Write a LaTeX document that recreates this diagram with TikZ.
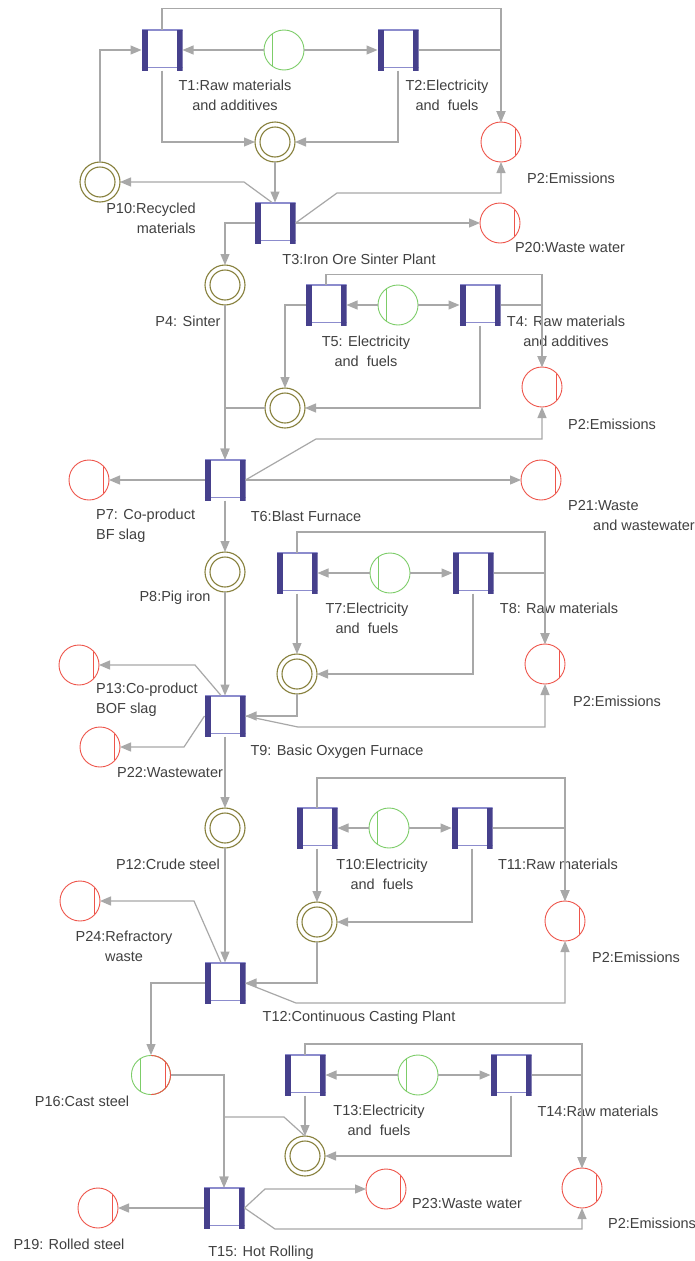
\documentclass[tikz,border=0pt]{standalone}
\usepackage{fontspec}
\setmainfont{Liberation Sans}
\usetikzlibrary{arrows.meta}
\definecolor{tbar}{RGB}{70,64,140}
\definecolor{tedge}{RGB}{140,140,205}
\definecolor{pgreen}{RGB}{125,205,105}
\definecolor{pred}{RGB}{238,85,75}
\definecolor{polive}{RGB}{135,128,60}
\definecolor{agray}{RGB}{168,168,168}
\definecolor{tgray}{RGB}{64,64,64}
\tikzset{
  trans/.style={rectangle, minimum width=41pt, minimum height=41pt, inner sep=0pt, outer sep=0pt, fill=white,
    path picture={
      \draw[tedge, line width=2.4pt] (path picture bounding box.north west) -- (path picture bounding box.north east);
      \draw[tedge, line width=1.2pt] ([yshift=3pt]path picture bounding box.south west) -- ([yshift=3pt]path picture bounding box.south east);
      \fill[tbar] (path picture bounding box.north west) rectangle ([xshift=6pt]path picture bounding box.south west);
      \fill[tbar] (path picture bounding box.north east) rectangle ([xshift=-6pt]path picture bounding box.south east);
    }},
  place/.style={circle, minimum size=40pt, inner sep=0pt, outer sep=0pt, fill=white, line width=0.9pt},
  redp/.style={place, draw=pred, path picture={\draw[pred, line width=0.9pt] ([xshift=14pt]path picture bounding box.north) -- ([xshift=14pt]path picture bounding box.south);}},
  greenp/.style={place, draw=pgreen, path picture={\draw[pgreen, line width=0.9pt] ([xshift=-12pt]path picture bounding box.north) -- ([xshift=-12pt]path picture bounding box.south);}},
  dblp/.style={place, draw=polive, line width=1.1pt, path picture={\draw[polive, line width=1.1pt] (path picture bounding box.center) circle (15pt);}},
  halfp/.style={place, path picture={
      \draw[pgreen, line width=1.8pt] (path picture bounding box.center) circle (20pt);
      \draw[pgreen, line width=0.9pt] ([xshift=-11pt]path picture bounding box.north) -- ([xshift=-11pt]path picture bounding box.south);
      \begin{scope}
        \clip (path picture bounding box.north) rectangle ([xshift=5pt]path picture bounding box.south east);
        \draw[pred, line width=1.8pt] (path picture bounding box.center) circle (20pt);
      \end{scope}
      \draw[pred, line width=0.9pt] ([xshift=14pt]path picture bounding box.north) -- ([xshift=14pt]path picture bounding box.south);
    }},
  arr/.style={draw=agray, line width=1.2pt, -{Triangle[length=11pt,width=9pt]}},
  lbl/.style={text=tgray, font=\fontsize{14.5}{20}\selectfont, inner sep=0pt, align=center},
}
\begin{document}
\begin{tikzpicture}[x=1pt,y=-1pt]
\fill[white] (0,0) rectangle (695,1261);
\useasboundingbox (0,0) rectangle (695,1261);

% ---------- block 1 ----------
\node[trans] (T1) at (162,50) {};
\node[greenp] (G1) at (284,50) {};
\node[trans] (T2) at (398,50) {};
\node[redp] (E1) at (501,142) {};
\node[dblp] (D1) at (275,142) {};
\node[dblp] (P10) at (100,182) {};
\node[trans] (T3) at (275,223) {};
\node[redp] (P20) at (500,223) {};
\node[dblp] (P4) at (225,285) {};

\node[lbl] (LT1) at (235,95) {T1:Raw materials\\and additives};
\node[lbl] (LT2) at (447,95) {T2:Electricity\\and\ \ fuels};
\node[lbl] (LE1) at (571,178) {P2:Emissions};
\node[lbl, align=right] (LP10) at (151,218) {P10:Recycled\\materials};
\node[lbl] (LT3) at (359,259) {T3:Iron Ore Sinter Plant};
\node[lbl] (LP20) at (570,248) {P20:Waste water};

\draw[arr] (G1.west) -- (T1.east);
\draw[arr] (G1.east) -- (T2.west);
\draw[arr] (T1.north) -- ++(0,-21) -| (E1.north);
\draw[arr] (T2.east) -| (E1.north);
\draw[arr] (T1.south) |- (D1.west);
\draw[arr] (T2.south) |- (D1.east);
\draw[arr] (D1.south) -- (T3.north);
\draw[arr] ([xshift=-3pt]T3.north) -- (244,182) -- (P10.east);
\draw[arr] (P10.north) |- (T1.west);
\draw[arr] (T3.east) -- (337,193) -| (E1.south);
\draw[arr] (T3.east) -- (P20.west);
\draw[arr] (T3.west) -| (P4.north);

% ---------- block 2 ----------
\node[trans] (T5) at (326,305) {};
\node[greenp] (G2) at (398,305) {};
\node[trans] (T4) at (480,305) {};
\node[redp] (E2) at (542,387) {};
\node[dblp] (D2) at (285,408) {};
\node[trans] (T6) at (225,480) {};
\node[redp] (P7) at (89,480) {};
\node[redp] (P21) at (541,480) {};
\node[dblp] (P8) at (225,572) {};

\node[lbl] (LP4) at (188,321) {P4: Sinter};
\node[lbl] (LT5) at (366,351) {T5: Electricity\\and\ \ fuels};
\node[lbl] (LT4) at (566,331) {T4: Raw materials\\and additives};
\node[lbl] (LE2) at (612,424) {P2:Emissions};
\node[lbl, align=left, anchor=west] (LP7) at (96,525.5) {P7: Co-product\\BF slag};
\node[lbl] (LT6) at (306,516) {T6:Blast Furnace};
\node[lbl, align=left, anchor=west] (LP21) at (568,516) {P21:Waste\\\hspace*{25pt}and wastewater};
\node[lbl] (LP8) at (175,598) {P8:Pig iron};

\draw[arr] (G2.west) -- (T5.east);
\draw[arr] (G2.east) -- (T4.west);
\draw[arr] (T5.north) -- ++(0,-10) -| (E2.north);
\draw[arr] (T4.east) -| (E2.north);
\draw[arr] (T5.west) -| (D2.north);
\draw[arr] (T4.south) |- (D2.east);
\draw[arr] (D2.west) -| (T6.north);
\draw[arr] (P4.south) -- (T6.north);
\draw[arr] (T6.east) -- (316,439) -| (E2.south);
\draw[arr] (T6.east) -- (P21.west);
\draw[arr] (T6.west) -- (P7.east);
\draw[arr] (T6.south) -- (P8.north);

% ---------- block 3 ----------
\node[trans] (T7) at (297,573) {};
\node[greenp] (G3) at (390,573) {};
\node[trans] (T8) at (473,573) {};
\node[redp] (E3) at (545,664) {};
\node[dblp] (D3) at (297,674) {};
\node[trans] (T9) at (225,716) {};
\node[redp] (P13) at (79,665) {};
\node[redp] (P22) at (100,747) {};
\node[dblp] (P12) at (225,828) {};

\node[lbl] (LT7) at (367,618) {T7:Electricity\\and\ \ fuels};
\node[lbl] (LT8) at (559,608) {T8: Raw materials};
\node[lbl] (LE3) at (617,701) {P2:Emissions};
\node[lbl, align=left, anchor=west] (LP13) at (96,700) {P13:Co-product\\BOF slag};
\node[lbl] (LP22) at (170,772) {P22:Wastewater};
\node[lbl] (LT9) at (337,752) {T9: Basic Oxygen Furnace};

\draw[arr] (G3.west) -- (T7.east);
\draw[arr] (G3.east) -- (T8.west);
\draw[arr] (T7.north) -- ++(0,-20.5) -| (E3.north);
\draw[arr] (T8.east) -| (E3.north);
\draw[arr] (T7.south) -- (D3.north);
\draw[arr] (T8.south) |- (D3.east);
\draw[arr] (D3.south) |- (T9.east);
\draw[arr] (T9.east) -- (298,727) -| (E3.south);
\draw[arr] (P8.south) -- (T9.north);
\draw[arr] ([xshift=-4pt]T9.north) -- (195,665) -- (P13.east);
\draw[arr] (T9.west) -- (184,747) -- (P22.east);
\draw[arr] (T9.south) -- (P12.north);

% ---------- block 4 ----------
\node[trans] (T10) at (317,828) {};
\node[greenp] (G4) at (389,828) {};
\node[trans] (T11) at (472,828) {};
\node[redp] (E4) at (565,921) {};
\node[dblp] (D4) at (317,922) {};
\node[trans] (T12) at (225,983) {};
\node[redp] (P24) at (80,901) {};
\node[halfp] (P16) at (151,1075) {};

\node[lbl] (LP12) at (168,864) {P12:Crude steel};
\node[lbl] (LT10) at (382,874) {T10:Electricity\\and\ \ fuels};
\node[lbl] (LT11) at (558,864) {T11:Raw materials};
\node[lbl] (LE4) at (636,957) {P2:Emissions};
\node[lbl] (LP24) at (124,946.5) {P24:Refractory\\waste};
\node[lbl] (LT12) at (359,1018) {T12:Continuous Casting Plant};

\draw[arr] (G4.west) -- (T10.east);
\draw[arr] (G4.east) -- (T11.west);
\draw[arr] (T10.north) -- ++(0,-29.5) -| (E4.north);
\draw[arr] (T11.east) -| (E4.north);
\draw[arr] (T10.south) -- (D4.north);
\draw[arr] (T11.south) |- (D4.east);
\draw[arr] (D4.south) |- (T12.east);
\draw[arr] (T12.east) -- (296,1003) -| (E4.south);
\draw[arr] (P12.south) -- (T12.north);
\draw[arr] ([xshift=-4pt]T12.north) -- (194,901) -- (P24.east);
\draw[arr] (T12.west) -| (P16.north);

% ---------- block 5 ----------
\node[trans] (T13) at (305,1075) {};
\node[greenp] (G5) at (418,1075) {};
\node[trans] (T14) at (511,1075) {};
\node[redp] (E5) at (582,1188) {};
\node[dblp] (D5) at (305,1156) {};
\node[trans] (T15) at (224,1208) {};
\node[redp] (P23) at (386,1189) {};
\node[redp] (P19) at (98,1208) {};

\node[lbl] (LP16) at (82,1101) {P16:Cast steel};
\node[lbl] (LT13) at (379,1120.5) {T13:Electricity\\and\ \ fuels};
\node[lbl] (LT14) at (598,1111) {T14:Raw materials};
\node[lbl] (LP23) at (467,1203) {P23:Waste water};
\node[lbl] (LE5) at (652,1223) {P2:Emissions};
\node[lbl] (LP19) at (69,1244) {P19: Rolled steel};
\node[lbl] (LT15) at (261,1253) {T15: Hot Rolling};

\draw[arr] (G5.west) -- (T13.east);
\draw[arr] (G5.east) -- (T14.west);
\draw[arr] (T13.north) -- ++(0,-10.5) -| (E5.north);
\draw[arr] (T14.east) -| (E5.north);
\draw[arr] (T13.south) -- (D5.north);
\draw[arr] (T14.south) |- (D5.east);
\draw[arr] (P16.east) -| (T15.north);
\draw[arr] (D5.north) -- (284,1117) -| (T15.north);
\draw[arr] (T15.east) -- (265,1189) -- (P23.west);
\draw[arr] (T15.east) -- (275,1229) -| (E5.south);
\draw[arr] (T15.west) -- (P19.east);
\end{tikzpicture}
\end{document}
